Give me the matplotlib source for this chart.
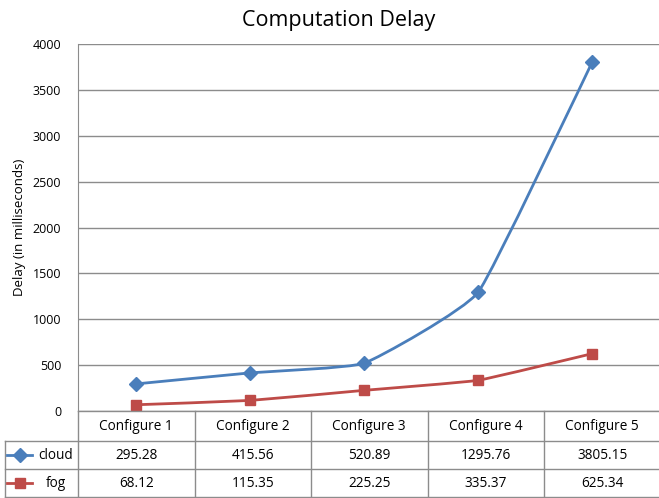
import matplotlib
matplotlib.use("Agg")
import matplotlib.pyplot as plt
from matplotlib.path import Path
from matplotlib.patches import PathPatch
import numpy as np

plt.rcParams['font.family'] = ['Open Sans', 'DejaVu Sans']

categories = ['Configure 1', 'Configure 2', 'Configure 3', 'Configure 4', 'Configure 5']
cloud = [295.28, 415.56, 520.89, 1295.76, 3805.15]
fog = [68.12, 115.35, 225.25, 335.37, 625.34]
series_names = ['cloud', 'fog']

BLUE = '#4A7EBB'
RED = '#BE4B48'
GRID = '#8C8C8C'

W, H = 659, 498
fig = plt.figure(figsize=(W / 100, H / 100), dpi=100)

# plot area in pixel units
px_left, px_right, px_top, px_bot = 78, 663, 44, 411
ax = fig.add_axes([px_left / W, 1 - px_bot / H, (px_right - px_left) / W, (px_bot - px_top) / H])


def smooth_path(xs, ys, k=0.06):
    # lightly smoothed line, bezier segments from neighbouring points
    pts = np.column_stack([xs, ys]).astype(float)
    n = len(pts)
    verts = [pts[0]]
    codes = [Path.MOVETO]
    for i in range(n - 1):
        p0 = pts[i - 1] if i > 0 else pts[i]
        p1 = pts[i]
        p2 = pts[i + 1]
        p3 = pts[i + 2] if i + 2 < n else pts[i + 1]
        c1 = p1 + (p2 - p0) * k
        c2 = p2 - (p3 - p1) * k
        verts += [c1, c2, p2]
        codes += [Path.CURVE4] * 3
    return Path(verts, codes)


x = np.arange(1, len(categories) + 1)
for vals, col, mk in [(cloud, BLUE, 'D'), (fog, RED, 's')]:
    ax.add_patch(PathPatch(smooth_path(x, vals), fill=False, edgecolor=col, lw=2.0, zorder=3))
    ax.plot(x, vals, linestyle='none', marker=mk, markersize=7, color=col, zorder=4)

ax.set_xlim(0.49, 5.62)
ax.set_ylim(0, 4000)
ax.set_yticks(range(0, 4001, 500))
ax.yaxis.grid(True, color=GRID, lw=1.0)
ax.set_axisbelow(True)
ax.set_xticks([])
for s in ['top', 'right', 'bottom']:
    ax.spines[s].set_visible(False)
ax.spines['left'].set_color(GRID)
ax.tick_params(axis='y', length=0, labelsize=9, pad=12)
ax.set_ylabel('Delay (in milliseconds)', fontsize=9.5, labelpad=5)
fig.text(339 / W, 1 - 20 / H, 'Computation Delay', ha='center', va='center', fontsize=15.5)

# data table drawn in pixel coordinates
tab = fig.add_axes([0, 0, 1, 1], zorder=5)
tab.set_xlim(0, W)
tab.set_ylim(H, 0)
tab.axis('off')

col_w = 116.5
rows = [411, 441, 469, 497]
lk = dict(color=GRID, lw=1.0)
tab.plot([px_left, px_right], [rows[0], rows[0]], **lk)
for r in rows[1:]:
    tab.plot([5, px_right], [r, r], **lk)
tab.plot([5, 5], [rows[1], rows[3]], **lk)
for k in range(len(categories) + 1):
    tab.plot([px_left + k * col_w] * 2, [rows[0], rows[3]], **lk)

for i, cat in enumerate(categories):
    cx = px_left + (i + 0.5) * col_w
    tab.text(cx, (rows[0] + rows[1]) / 2, cat, ha='center', va='center', fontsize=9.8)
    tab.text(cx, (rows[1] + rows[2]) / 2, f'{cloud[i]:.2f}', ha='center', va='center', fontsize=9.8)
    tab.text(cx, (rows[2] + rows[3]) / 2, f'{fog[i]:.2f}', ha='center', va='center', fontsize=9.8)

for j, (name, col, mk) in enumerate([(series_names[0], BLUE, 'D'), (series_names[1], RED, 's')]):
    cy = (rows[j + 1] + rows[j + 2]) / 2
    tab.plot([7, 32], [cy, cy], color=col, lw=2.0)
    tab.plot([19.5], [cy], marker=mk, markersize=7, color=col, linestyle='none')
    tab.text(56, cy, name, ha='center', va='center', fontsize=9.8)

fig.savefig('out.png', dpi=100)
